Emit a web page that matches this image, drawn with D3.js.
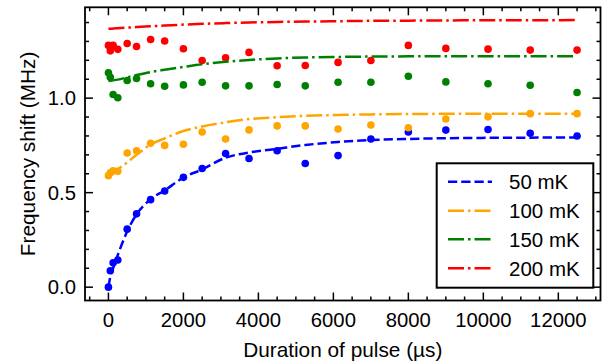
<!DOCTYPE html>
<html>
<head>
<meta charset="utf-8">
<script src="https://cdn.jsdelivr.net/npm/d3@7"></script>
<style>
  html, body { margin: 0; padding: 0; background: #fff; }
  svg { display: block; }
  text { font-family: "Liberation Sans", Arial, Helvetica, sans-serif; fill: #000; }
</style>
</head>
<body>
<svg id="chart" width="604" height="362"></svg>
<script>
// Pulse durations (µs) at which the frequency shift was measured
const durations = [0, 50, 125, 250, 500, 750, 1125, 1500, 2000, 2500, 3125, 3750,
                   4500, 5250, 6125, 7000, 8000, 9000, 10125, 11250, 12500];

// Measured frequency shift (MHz) per temperature
const shift50  = [0.000, 0.087, 0.129, 0.144, 0.307, 0.388, 0.463, 0.509, 0.581, 0.628, 0.707,
                  0.681, 0.722, 0.654, 0.696, 0.784, 0.821, 0.831, 0.834, 0.814, 0.800];
const shift100 = [0.590, 0.605, 0.615, 0.613, 0.710, 0.722, 0.761, 0.750, 0.756, 0.821, 0.784,
                  0.832, 0.853, 0.853, 0.837, 0.858, 0.843, 0.890, 0.901, 0.918, 0.918];
const shift150 = [1.134, 1.110, 1.019, 1.002, 1.093, 1.104, 1.076, 1.063, 1.070, 1.084, 1.065,
                  1.065, 1.072, 1.065, 1.084, 1.084, 1.116, 1.086, 1.076, 1.068, 1.030];
const shift200 = [1.279, 1.250, 1.279, 1.258, 1.289, 1.273, 1.310, 1.302, 1.261, 1.199, 1.214,
                  1.242, 1.171, 1.173, 1.189, 1.199, 1.279, 1.263, 1.259, 1.254, 1.254];

// Fitted saturation curves, sampled on the same duration grid
const fit50  = [0.000, 0.055, 0.100, 0.170, 0.295, 0.385, 0.465, 0.512, 0.580, 0.623, 0.685,
                0.712, 0.732, 0.752, 0.768, 0.778, 0.784, 0.788, 0.790, 0.791, 0.792];
const fit100 = [0.590, 0.596, 0.606, 0.624, 0.660, 0.700, 0.755, 0.787, 0.826, 0.850, 0.872,
                0.889, 0.899, 0.906, 0.911, 0.914, 0.916, 0.917, 0.918, 0.918, 0.918];
const fit150 = [1.090, 1.092, 1.094, 1.098, 1.110, 1.122, 1.138, 1.150, 1.165, 1.179, 1.192,
                1.202, 1.210, 1.215, 1.218, 1.220, 1.221, 1.222, 1.222, 1.222, 1.222];
const fit200 = [1.367, 1.367, 1.368, 1.370, 1.373, 1.376, 1.380, 1.384, 1.389, 1.393, 1.397,
                1.400, 1.403, 1.405, 1.407, 1.409, 1.410, 1.411, 1.412, 1.412, 1.413];

const seriesNames = ["50 mK", "100 mK", "150 mK", "200 mK"];
const seriesColors = ["#0000ff", "#ffa500", "#008000", "#ff0000"];

// Axis tick values
const xMajorTicks = [0, 2000, 4000, 6000, 8000, 10000, 12000];
const xMinorTicks = [-500, 500, 1000, 1500, 2500, 3000, 3500, 4500, 5000, 5500, 6500, 7000,
                     7500, 8500, 9000, 9500, 10500, 11000, 11500, 12500, 13000];
const yMajorTicks = [0.0, 0.5, 1.0];
const yMinorTicks = [0.1, 0.2, 0.3, 0.4, 0.6, 0.7, 0.8, 0.9, 1.1, 1.2, 1.3, 1.4];

const measured = [shift50, shift100, shift150, shift200];
const fitted = [fit50, fit100, fit150, fit200];

const plot = { left: 85, right: 600.5, top: 7.3, bottom: 300.5 };
const TICK_FONT = 20.3, TITLE_FONT = 20.8, LEGEND_FONT = 20.5;

const svg = d3.select("#chart");

const x = d3.scaleLinear().domain([-625, 13125]).range([plot.left, plot.right]);
const y = d3.scaleLinear().domain([-0.0705, 1.4805]).range([plot.bottom, plot.top]);

const plotW = plot.right - plot.left, plotH = plot.bottom - plot.top;

svg.append("defs").append("clipPath").attr("id", "clip")
  .append("rect").attr("x", plot.left).attr("y", plot.top)
  .attr("width", plotW).attr("height", plotH);

const marks = svg.append("g").attr("clip-path", "url(#clip)");

// Scatter of measured points (underneath the fit lines)
measured.forEach((vals, i) => {
  marks.append("g").selectAll("circle")
    .data(durations.map((d, k) => [d, vals[k]]))
    .join("circle")
    .attr("cx", d => x(d[0]))
    .attr("cy", d => y(d[1]))
    .attr("r", 3.8)
    .attr("fill", seriesColors[i]);
});

// Fit lines
const LW = 2.5;
const dashed = `${3.7 * LW},${1.6 * LW}`;
const dashDot = `${6.4 * LW},${1.6 * LW},${1 * LW},${1.6 * LW}`;
const dashes = [dashed, dashDot, dashDot, dashDot];

const line = d3.line().x(d => x(d[0])).y(d => y(d[1])).curve(d3.curveMonotoneX);

fitted.forEach((vals, i) => {
  marks.append("path")
    .datum(durations.map((d, k) => [d, vals[k]]))
    .attr("d", line)
    .attr("fill", "none")
    .attr("stroke", seriesColors[i])
    .attr("stroke-width", LW)
    .attr("stroke-dasharray", dashes[i]);
});

// Axes with inward ticks on all four sides
const MAJ = 8, MIN = 4;
const axisG = svg.append("g");

function ticks(g, scale, values, len, orient) {
  values.forEach(v => {
    if (orient === "bottom") {
      g.append("line").attr("x1", scale(v)).attr("x2", scale(v))
        .attr("y1", plot.bottom).attr("y2", plot.bottom - len);
    } else if (orient === "top") {
      g.append("line").attr("x1", scale(v)).attr("x2", scale(v))
        .attr("y1", plot.top).attr("y2", plot.top + len);
    } else if (orient === "left") {
      g.append("line").attr("y1", scale(v)).attr("y2", scale(v))
        .attr("x1", plot.left).attr("x2", plot.left + len);
    } else {
      g.append("line").attr("y1", scale(v)).attr("y2", scale(v))
        .attr("x1", plot.right).attr("x2", plot.right - len);
    }
  });
}

const tickG = axisG.append("g").attr("stroke", "#000").attr("stroke-width", 1.5);
["bottom", "top"].forEach(o => {
  ticks(tickG, x, xMajorTicks, MAJ, o);
  ticks(tickG, x, xMinorTicks, MIN, o);
});
["left", "right"].forEach(o => {
  ticks(tickG, y, yMajorTicks, MAJ, o);
  ticks(tickG, y, yMinorTicks, MIN, o);
});

// Frame
axisG.append("rect")
  .attr("x", plot.left).attr("y", plot.top)
  .attr("width", plotW).attr("height", plotH)
  .attr("fill", "none").attr("stroke", "#000").attr("stroke-width", 1.8);

// Tick labels
axisG.append("g").selectAll("text")
  .data(xMajorTicks).join("text")
  .attr("x", d => x(d)).attr("y", 326.5)
  .attr("text-anchor", "middle")
  .attr("font-size", TICK_FONT)
  .text(d => d3.format("d")(d));

axisG.append("g").selectAll("text")
  .data(yMajorTicks).join("text")
  .attr("x", 76).attr("y", d => y(d) + 7.2)
  .attr("text-anchor", "end")
  .attr("font-size", TICK_FONT)
  .text(d => d3.format(".1f")(d));

// Axis titles
svg.append("text")
  .attr("x", (plot.left + plot.right) / 2).attr("y", 357)
  .attr("text-anchor", "middle").attr("font-size", TITLE_FONT)
  .text("Duration of pulse (µs)");

svg.append("text")
  .attr("transform", `translate(35, ${(plot.top + plot.bottom) / 2}) rotate(-90)`)
  .attr("text-anchor", "middle").attr("font-size", TITLE_FONT)
  .text("Frequency shift (MHz)");

// Legend
const legend = svg.append("g");
legend.append("rect")
  .attr("x", 436.7).attr("y", 163.3).attr("width", 156.6).attr("height", 124.4)
  .attr("fill", "#fff").attr("stroke", "#000").attr("stroke-width", 2);

const rowY = [181.7, 210.7, 239.3, 268.3];
seriesNames.forEach((name, i) => {
  legend.append("line")
    .attr("x1", 448).attr("x2", 492)
    .attr("y1", rowY[i]).attr("y2", rowY[i])
    .attr("stroke", seriesColors[i]).attr("stroke-width", LW)
    .attr("stroke-dasharray", dashes[i]);
  legend.append("text")
    .attr("x", 509).attr("y", rowY[i] + 7.3)
    .attr("font-size", LEGEND_FONT)
    .text(name);
});
</script>
</body>
</html>
